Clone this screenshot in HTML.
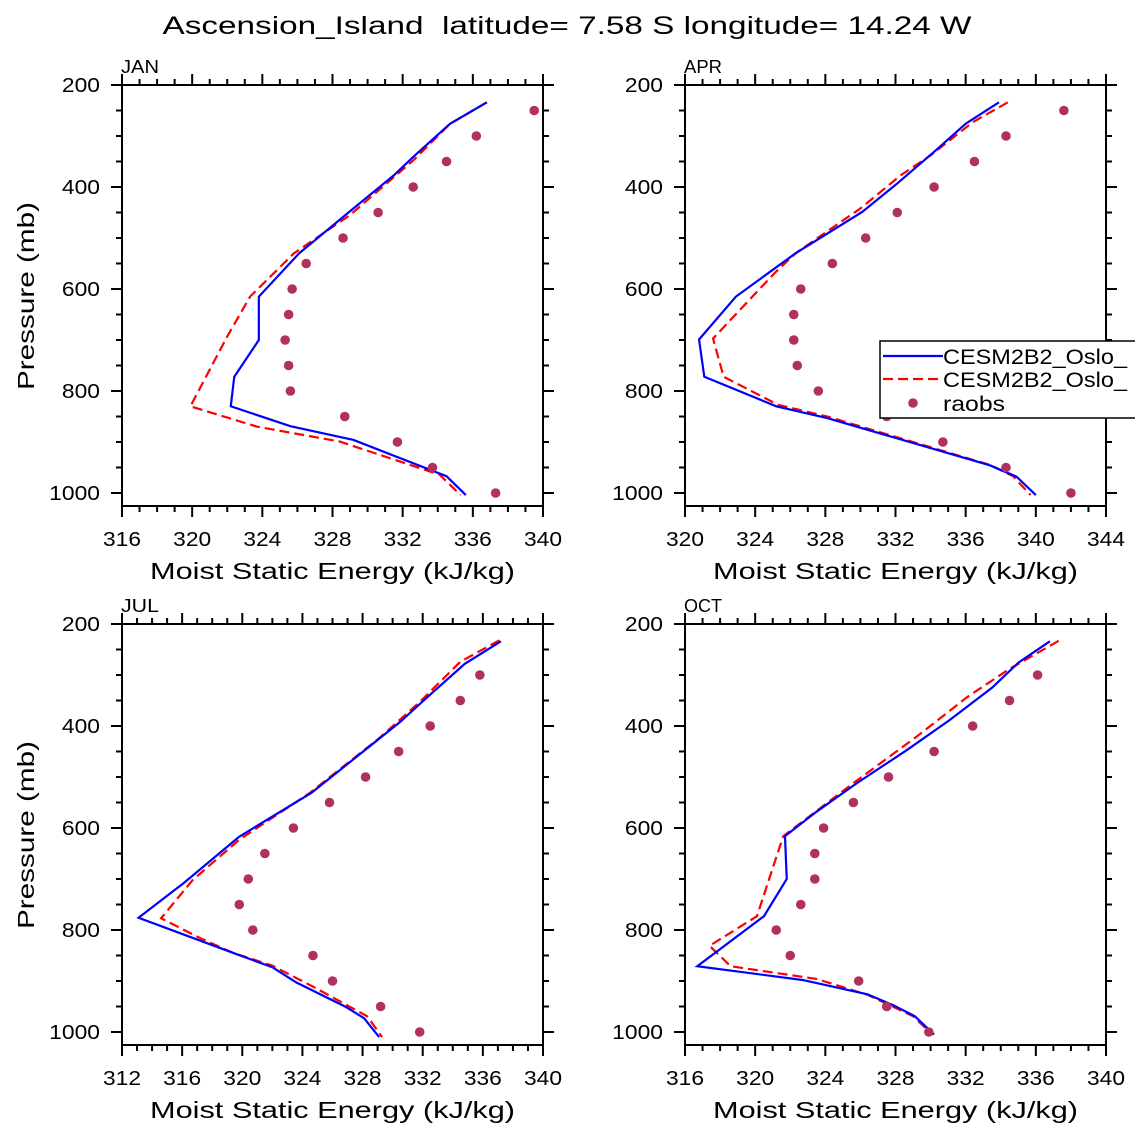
<!DOCTYPE html>
<html><head><meta charset="utf-8"><style>
body{margin:0;background:#fff}
svg{display:block;font-family:"Liberation Sans",sans-serif}
</style></head><body>
<svg id="chart" width="1135" height="1135" viewBox="0 0 1135 1135">
<text x="567" y="34" text-anchor="middle" font-size="25" textLength="809" lengthAdjust="spacingAndGlyphs" xml:space="preserve">Ascension_Island  latitude= 7.58 S longitude= 14.24 W</text>
</svg>
<script>
const obsP = [250,300,350,400,450,500,550,600,650,700,750,800,850,900,950,1000];
const obsP15 = [300,350,400,450,500,550,600,650,700,750,800,850,900,950,1000];
const janBlueX=[336.8,334.7,332.6,331.5,329.3,326.1,323.8,323.8,322.4,322.2,325.6,329.2,334.5,335.6];
const janBlueP=[234,276,341,377,439,530,615,700,772,830,869,896,967,1004];
const janRedX=[336.8,334.7,332.6,329.0,325.8,323.3,322.0,319.9,323.7,328.4,334.1,335.3];
const janRedP=[234,276,348,455,530,615,693,830,870,899,964,1004];
const janObs=[339.5,336.2,334.5,332.6,330.6,328.6,326.5,325.7,325.5,325.3,325.5,325.6,328.7,331.7,333.7,337.3];
const aprBlueX=[337.9,336.0,334.3,332.1,330.1,326.3,322.9,320.8,321.1,325.2,328.1,337.4,338.9,340.0];
const aprBlueP=[234,276,328,393,449,530,615,699,772,830,853,946,968,1004];
const aprRedX=[338.4,336.4,334.0,332.3,330.0,326.3,325.1,321.6,322.2,325.3,328.1,337.4,338.7,339.7];
const aprRedP=[234,273,338,377,442,530,569,697,772,827,850,945,967,1004];
const aprObs=[341.6,338.3,336.5,334.2,332.1,330.3,328.4,326.6,326.2,326.2,326.4,327.6,331.5,334.7,338.3,342.0];
const julBlueX=[337.2,334.8,332.1,330.5,328.0,324.6,319.8,316.1,313.1,319.4,322.0,323.6,326.9,328.1,329.1];
const julBlueP=[234,278,349,392,451,531,617,708,776,845,873,903,951,973,1010];
const julRedX=[337.1,334.5,331.8,329.1,324.5,319.8,316.7,314.6,317.2,319.4,322.0,324.7,328.3,329.3];
const julRedP=[232,274,353,424,531,623,702,777,816,845,870,911,969,1010];
const julObs=[335.8,334.5,332.5,330.4,328.2,325.8,323.4,321.5,320.4,319.8,320.7,324.7,326.0,329.2,331.8];
const octBlueX=[336.8,335.0,333.5,331.1,328.7,325.8,323.5,321.7,321.8,320.5,316.7,322.7,326.4,327.9,329.1,330.2];
const octBlueP=[234,276,325,388,446,512,568,616,700,773,871,898,926,948,969,1005];
const octRedX=[337.3,334.5,332.1,329.2,325.6,321.6,320.1,317.4,318.6,323.5,326.4,329.0,330.1];
const octRedP=[233,288,343,421,512,616,773,831,871,896,927,969,1005];
const octObs=[336.1,334.5,332.4,330.2,327.6,325.6,323.9,323.4,323.4,322.6,321.2,322.0,325.9,327.5,329.9];
const janTicks=[316,320,324,328,332,336,340];
const aprTicks=[320,324,328,332,336,340,344];
const julTicks=[312,316,320,324,328,332,336,340];
const octTicks=[316,320,324,328,332,336,340];
const pTicks=[200,400,600,800,1000];

const NS="http://www.w3.org/2000/svg";
const svg=document.getElementById('chart');
function mk(tag,attrs,parent){const e=document.createElementNS(NS,tag);for(const k in attrs)e.setAttribute(k,attrs[k]);(parent||svg).appendChild(e);return e;}

function panel(name,left,top,xmin,xmax,ticks,bx,bp,rx,rp,obsX,obsPs,showY){
  const W=421, H=421, pTop=200, pBot=200+H*800/408;
  const g=mk('g',{});
  
  
  const sx=v=>left+(v-xmin)/(xmax-xmin)*W;
  const sy=p=>top+(p-pTop)/(pBot-pTop)*H;
  const frame=mk('rect',{x:left,y:top,width:W,height:H,fill:'none',stroke:'#000','stroke-width':2},g);
  
  
  for(let v=xmin;v<=xmax+1e-6;v+=1){
    const major=ticks.indexOf(v)>=0; const L=major?11:6;
    mk('line',{x1:sx(v),x2:sx(v),y1:top+H,y2:top+H+L,stroke:'#000','stroke-width':2},g);
    mk('line',{x1:sx(v),x2:sx(v),y1:top,y2:top-L,stroke:'#000','stroke-width':2},g);
  }
  ticks.forEach(v=>{
    const t=mk('text',{x:sx(v),y:top+H+40,'text-anchor':'middle','font-size':20,textLength:38,lengthAdjust:'spacingAndGlyphs'},g);
    t.textContent=v;
    
    
  });
  for(let p=200;p<=1000;p+=50){
    const major=pTicks.indexOf(p)>=0; const L=major?11:6;
    mk('line',{x1:left,x2:left-L,y1:sy(p),y2:sy(p),stroke:'#000','stroke-width':2},g);
    mk('line',{x1:left+W,x2:left+W+L,y1:sy(p),y2:sy(p),stroke:'#000','stroke-width':2},g);
  }
  pTicks.forEach(p=>{
    const s=String(p);
    const t=mk('text',{x:left-22,y:sy(p)+7,'text-anchor':'end','font-size':20,textLength:s.length*12.7,lengthAdjust:'spacingAndGlyphs'},g);
    t.textContent=s;
    
    
  });
  const lab=mk('text',{x:left-1,y:top-12,'font-size':18,textLength:38,lengthAdjust:'spacingAndGlyphs'},g);
  lab.textContent=name.toUpperCase();
  
  
  const xt=mk('text',{x:left+W/2,y:top+H+73,'text-anchor':'middle','font-size':23,textLength:365,lengthAdjust:'spacingAndGlyphs'},g);
  xt.textContent='Moist Static Energy (kJ/kg)';
  
  
  if(showY){
    const yt=mk('text',{x:0,y:0,'text-anchor':'middle','font-size':23,textLength:188,lengthAdjust:'spacingAndGlyphs',transform:`translate(34,${top+211}) rotate(-90)`},g);
    yt.textContent='Pressure (mb)';
    
    
  }
  const rl=mk('polyline',{points:rx.map((v,i)=>sx(v)+','+sy(rp[i])).join(' '),fill:'none',stroke:'#ff0000','stroke-width':2.2,'stroke-dasharray':'10,5'},g);
  
  
  const bl=mk('polyline',{points:bx.map((v,i)=>sx(v)+','+sy(bp[i])).join(' '),fill:'none',stroke:'#0000ff','stroke-width':2.2},g);
  
  
  obsX.forEach((v,i)=>{
    const c=mk('circle',{cx:sx(v),cy:sy(obsPs[i]),r:4.8,fill:'#b03060'},g);
    
    
  });
}
panel('jan',122,85,316,340,janTicks,janBlueX,janBlueP,janRedX,janRedP,janObs,obsP,true);
panel('apr',685,85,320,344,aprTicks,aprBlueX,aprBlueP,aprRedX,aprRedP,aprObs,obsP,false);
panel('jul',122,624,312,340,julTicks,julBlueX,julBlueP,julRedX,julRedP,julObs,obsP15,true);
panel('oct',685,624,316,340,octTicks,octBlueX,octBlueP,octRedX,octRedP,octObs,obsP15,false);

const lg=mk('g',{});


mk('rect',{x:880,y:341,width:265,height:77,fill:'#fff',stroke:'#000','stroke-width':1.5},lg);
mk('line',{x1:883,x2:943,y1:356,y2:356,stroke:'#0000ff','stroke-width':2.2},lg);
mk('line',{x1:883,x2:943,y1:379,y2:379,stroke:'#ff0000','stroke-width':2.2,'stroke-dasharray':'10,5'},lg);
mk('circle',{cx:913,cy:403,r:4.8,fill:'#b03060'},lg);
[['CESM2B2_Oslo_',364,'legend-entry-blue',184],['CESM2B2_Oslo_',387,'legend-entry-red',184],['raobs',411,'legend-entry-raobs',62]].forEach(d=>{
  const t=mk('text',{x:943,y:d[1],'font-size':21,textLength:d[3],lengthAdjust:'spacingAndGlyphs'},lg);
  t.textContent=d[0];
  
  
});
</script>
</body></html>
